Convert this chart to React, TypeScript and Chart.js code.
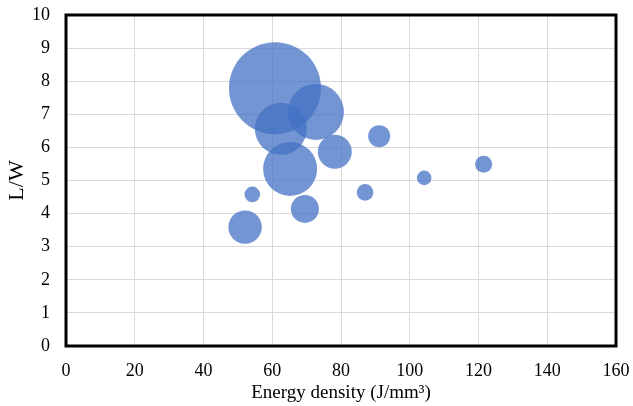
import React, { useEffect, useRef } from "react";
import { Chart, registerables } from "chart.js";

Chart.register(...registerables);

const energyDensity = [60.8, 72.7, 62.5, 65.2, 78.2, 91.1, 104.2, 121.5, 87.0, 54.2, 52.1, 69.5];
const lengthWidth = [7.79, 7.07, 6.56, 5.35, 5.87, 6.34, 5.08, 5.49, 4.64, 4.58, 3.59, 4.14];
const bubbleSize = [46, 28, 26, 27, 17, 11, 7.3, 8.5, 8.3, 7.8, 16.7, 14];
const xTicks = [0, 20, 40, 60, 80, 100, 120, 140, 160];
const yTicks = [0, 1, 2, 3, 4, 5, 6, 7, 8, 9, 10];

const FONT = "'Liberation Serif', 'Times New Roman', serif";

const borderPlugin = {
  id: "plotBorder",
  afterDraw(chart: any) {
    const { ctx, chartArea } = chart;
    ctx.save();
    ctx.strokeStyle = "#000";
    ctx.lineWidth = 3;
    ctx.strokeRect(chartArea.left, chartArea.top, chartArea.right - chartArea.left, chartArea.bottom - chartArea.top);
    ctx.restore();
  },
};

export default function App() {
  const ref = useRef<HTMLCanvasElement>(null);
  useEffect(() => {
    if (!ref.current) return;
    const chart = new Chart(ref.current, {
      type: "bubble",
      data: {
        datasets: [
          {
            data: energyDensity.map((x, i) => ({ x, y: lengthWidth[i], r: bubbleSize[i] })),
            backgroundColor: "rgba(68,114,196,0.75)",
            borderWidth: 0,
            clip: false,
          },
        ],
      },
      plugins: [borderPlugin],
      options: {
        animation: false,
        responsive: false,
        maintainAspectRatio: false,
        layout: { autoPadding: false, padding: { top: 15, right: 17, left: 0, bottom: 0 } },
        plugins: { legend: { display: false }, tooltip: { enabled: false } },
        scales: {
          x: {
            type: "linear",
            min: 0,
            max: 160,
            afterBuildTicks: (s: any) => {
              s.ticks = xTicks.map((v) => ({ value: v }));
            },
            afterFit: (s: any) => {
              s.height = 60;
              s.paddingLeft = 0;
              s.paddingRight = 0;
            },
            grid: { color: "#d9d9d9", lineWidth: 1, drawTicks: false },
            border: { display: false },
            ticks: { color: "#000", font: { family: FONT, size: 18 }, padding: 14, maxRotation: 0 },
            title: {
              display: true,
              text: "Energy density (J/mm³)",
              color: "#000",
              font: { family: FONT, size: 19 },
              padding: { top: 2, bottom: 2 },
            },
          },
          y: {
            type: "linear",
            min: 0,
            max: 10,
            afterBuildTicks: (s: any) => {
              s.ticks = yTicks.map((v) => ({ value: v }));
            },
            afterFit: (s: any) => {
              s.width = 66;
              s.paddingTop = 0;
              s.paddingBottom = 0;
            },
            grid: { color: "#d9d9d9", lineWidth: 1, drawTicks: false },
            border: { display: false },
            ticks: { color: "#000", font: { family: FONT, size: 18 }, padding: 16 },
            title: {
              display: true,
              text: "L/W",
              color: "#000",
              font: { family: FONT, size: 22 },
              padding: { top: 4, bottom: 0 },
            },
          },
        },
      },
    });
    return () => chart.destroy();
  }, []);
  return (
    <div style={{ position: "fixed", left: 0, top: 0, width: 633, height: 406, background: "#fff" }}>
      <canvas ref={ref} width={633} height={406} style={{ width: 633, height: 406 }} />
    </div>
  );
}
